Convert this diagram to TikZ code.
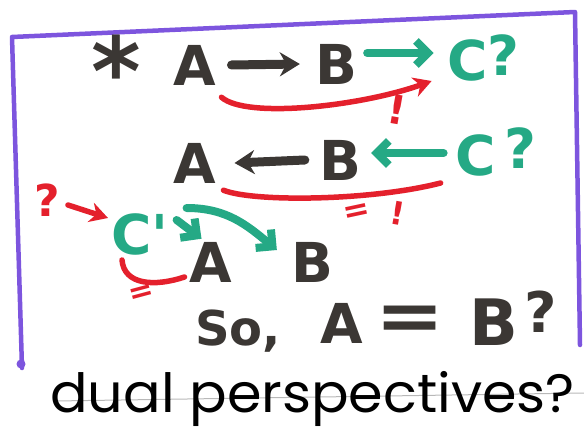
\documentclass[tikz,border=0pt]{standalone}
\usepackage{fontspec}
\newfontfamily\handfont{DejaVu Sans}
\newfontfamily\titlefont{Poppins}
\usetikzlibrary{positioning, arrows.meta, calc}
\definecolor{InkGray}{HTML}{3B3734}
\definecolor{MarkTeal}{HTML}{25A985}
\definecolor{MarkRed}{HTML}{E4202C}
\definecolor{BoardViolet}{HTML}{7D55DE}
\definecolor{RuleGray}{HTML}{B8B8B8}

\begin{document}
\begin{tikzpicture}[
  x=1pt, y=-1pt,
  letter/.style={font=\handfont\bfseries\fontsize{55}{55}\selectfont, inner sep=0pt},
  inkltr/.style={letter, text=InkGray},
  tealltr/.style={letter, text=MarkTeal},
  redltr/.style={font=\handfont\bfseries\fontsize{40}{40}\selectfont, inner sep=0pt, text=MarkRed},
  inkarr/.style={-{Stealth[length=20pt, width=24pt]}, line width=9pt, InkGray, line cap=round},
  tealarr/.style={-{Straight Barb[length=12pt, width=24pt]}, line width=8pt, MarkTeal, line cap=round},
  redarr/.style={-{Stealth[length=18pt, width=20pt]}, line width=5.5pt, MarkRed, line cap=round},
  redline/.style={line width=5.5pt, MarkRed, line cap=round},
  boardline/.style={line width=4.5pt, BoardViolet, line cap=round, line join=round},
]
  \useasboundingbox (0,0) rectangle (584,433);

  % whiteboard frame
  \draw[boardline] (22,368) -- (12,37) -- (575,12) -- (580,345);
  \fill[BoardViolet] (21,364) circle (4.5);
  \draw[RuleGray, line width=1pt] (55,401) -- (584,393);

  %% first line: * A -> B -> C ?
  \node[inkltr, font=\handfont\bfseries\fontsize{95}{95}\selectfont] (star) at (116,70) {*};
  \node[inkltr] (A1) at (195,65) {A};
  \node[inkltr] (B1) at (336,64) {B};
  \node[tealltr] (C1) at (468,60) {C};
  \node[tealltr] (q1) at (503,55) {?};
  \draw[inkarr] ([xshift=15pt]A1.east) -- ([xshift=-15pt]B1.west);
  \draw[tealarr] ([shift={(10,-11)}]B1.east) -- ([shift={(-14,-7)}]C1.west);
  \draw[redarr] ([shift={(5,12)}]A1.south east)
    .. controls +(25,22) and +(-70,25) .. ([xshift=-16pt]C1.south west);
  \node[redltr, rotate=-10] (bang1) at (397,110) {!};

  %% second line: A <- B <- C ?
  \node[inkltr] (A2) at (195,163) {A};
  \node[inkltr] (B2) at (340,160) {B};
  \node[tealltr] (C2) at (476,155) {C};
  \node[tealltr] (q2) at (520,148) {?};
  \draw[inkarr] ([xshift=-14pt]B2.west) -- ([xshift=18pt]A2.east);
  \draw[tealarr] ([shift={(-12,-2)}]C2.west) -- ([shift={(10,-7)}]B2.east);
  \draw[redline] ([shift={(7,7)}]A2.south east)
    .. controls +(30,12) and +(-70,18) .. ([shift={(-15,7)}]C2.south west);
  \node[redltr, font=\handfont\bfseries\fontsize{32}{32}\selectfont, rotate=12] (eq2) at (357,213) {=};
  \node[redltr, font=\handfont\bfseries\fontsize{32}{32}\selectfont, rotate=-10] (bang2) at (398,213) {!};

  %% third line: ? -> C' -> A B
  \node[redltr, font=\handfont\bfseries\fontsize{44}{44}\selectfont] (q3) at (47,200) {?};
  \node[tealltr, anchor=west] (C3) at (111,234) {C'};
  \node[inkltr] (A3) at (211,262) {A};
  \node[inkltr] (B3) at (312,262) {B};
  \draw[redarr] ([shift={(8,5)}]q3.east) -- ([shift={(-3,-16)}]C3.west);
  \draw[tealarr] ([shift={(8,-14)}]C3.east) -- ([shift={(12,-3)}]A3.north west);
  \draw[tealarr] ([shift={(18,-26)}]C3.east)
    .. controls +(40,0) and +(-30,-25) .. ([shift={(-14,-12)}]B3.west);
  \draw[redline] ([shift={(11,5)}]C3.south west)
    .. controls +(2,25) and +(-30,10) .. ([shift={(-5,15)}]A3.west);
  \node[redltr, font=\handfont\bfseries\fontsize{30}{30}\selectfont, rotate=15] (eq3) at (142,294) {=};

  %% conclusion
  \node[inkltr, anchor=base west, font=\handfont\bfseries\fontsize{48}{48}\selectfont] (so) at (195,345) {So,};
  \node[inkltr] (A4) at (342,323) {A};
  \node[inkltr, xscale=1.5, yscale=1.3] (eq4) at (410,323) {=};
  \node[inkltr, font=\handfont\bfseries\fontsize{64}{64}\selectfont] (B4) at (494,322) {B};
  \node[inkltr, font=\handfont\bfseries\fontsize{56}{56}\selectfont] (q4) at (541,312) {?};

  \node[anchor=base west, inner sep=0pt, font=\titlefont\fontsize{54}{54}\selectfont, xscale=1.03] (title) at (50,412) {dual perspectives?};
\end{tikzpicture}
\end{document}
